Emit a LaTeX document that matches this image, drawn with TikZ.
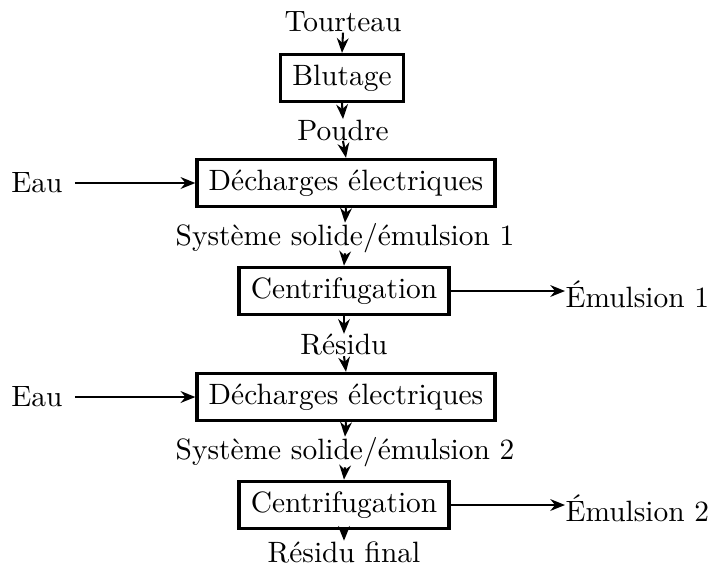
\documentclass[tikz,border=0pt]{standalone}
\usepackage{fontspec}
\usetikzlibrary{arrows.meta}
\begin{document}
\begin{tikzpicture}[x=0.34pt,y=-0.34pt,
  box/.style={draw,line width=1.1pt,inner xsep=4pt,inner ysep=3.5pt},
  lab/.style={inner sep=0pt},
  flow/.style={line width=0.7pt,-{Stealth[length=5pt,width=4pt]}}]
\useasboundingbox (0,0) rectangle (713,567);
\node[lab] (t) at (343,22) {Tourteau};
\node[box] (b) at (342,78) {Blutage};
\node[lab] (p) at (343,130) {Poudre};
\node[box] (d1) at (346,183) {Décharges électriques};
\node[lab] (e1) at (37,183) {Eau};
\node[lab] (s1) at (345,238) {Système solide/émulsion 1};
\node[box] (c1) at (344,291) {Centrifugation};
\node[lab,anchor=west] (m1) at (565,294) {Émulsion 1};
\node[lab] (r) at (344,345) {Résidu};
\node[box] (d2) at (346,397) {Décharges électriques};
\node[lab] (e2) at (37,397) {Eau};
\node[lab] (s2) at (345,452) {Système solide/émulsion 2};
\node[box] (c2) at (344,505) {Centrifugation};
\node[lab,anchor=west] (m2) at (565,508) {Émulsion 2};
\node[lab] (rf) at (344,552) {Résidu final};
\draw[flow] (t.south) -- (b.north);
\draw[flow] (b.south) -- (p.north);
\draw[flow] (p.south) -- (d1.north);
\draw[flow] ([xshift=4pt]e1.east) -- (d1.west);
\draw[flow] (d1.south) -- (s1.north);
\draw[flow] (s1.south) -- (c1.north);
\draw[flow] (c1.east) -- (c1.east -| m1.west);
\draw[flow] (c1.south) -- (r.north);
\draw[flow] (r.south) -- (d2.north);
\draw[flow] ([xshift=4pt]e2.east) -- (d2.west);
\draw[flow] (d2.south) -- (s2.north);
\draw[flow] (s2.south) -- (c2.north);
\draw[flow] (c2.east) -- (c2.east -| m2.west);
\draw[flow] (c2.south) -- (rf.north);
\end{tikzpicture}
\end{document}
